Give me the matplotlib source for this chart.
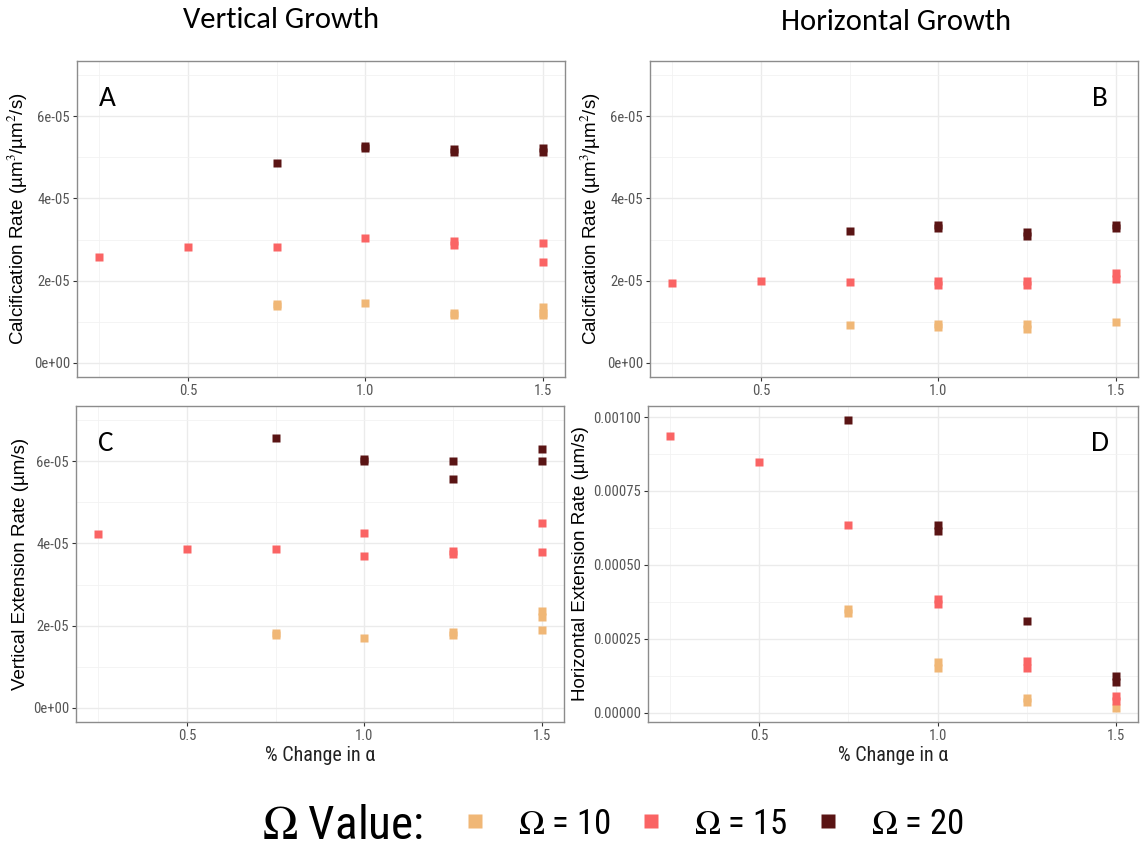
import matplotlib
matplotlib.use("Agg")
import matplotlib.pyplot as plt
from matplotlib import font_manager as fm
from matplotlib.lines import Line2D
from matplotlib.ticker import MultipleLocator, FuncFormatter

names = sorted({f.name for f in fm.fontManager.ttflist})

def pick(*cands):
    for c in cands:
        if c in names:
            return c
    return "DejaVu Sans"

NARROW = pick("Liberation Sans Narrow", "Arial Narrow", "Roboto Condensed", "Liberation Sans")
SANS = pick("Liberation Sans", "Arial", "DejaVu Sans")
CAL = pick("Carlito", "Calibri", "Lato", "Open Sans")

plt.rcParams["mathtext.fontset"] = "stix"

# ---------------- data ----------------
omega_levels = [10, 15, 20]
omega_colors = ["#F0B776", "#FA6464", "#5A1414"]

# Panel A: vertical growth, calcification rate
A_x10 = [0.75, 0.75, 1.0, 1.25, 1.25, 1.5, 1.5, 1.5]
A_y10 = [1.44e-05, 1.37e-05, 1.46e-05, 1.22e-05, 1.15e-05, 1.35e-05, 1.22e-05, 1.15e-05]
A_x15 = [0.25, 0.5, 0.75, 1.0, 1.25, 1.25, 1.5, 1.5]
A_y15 = [2.575e-05, 2.81e-05, 2.82e-05, 3.04e-05, 2.97e-05, 2.86e-05, 2.915e-05, 2.46e-05]
A_x20 = [0.75, 1.0, 1.0, 1.25, 1.25, 1.5, 1.5]
A_y20 = [4.87e-05, 5.27e-05, 5.22e-05, 5.20e-05, 5.14e-05, 5.22e-05, 5.14e-05]

# Panel B: horizontal growth, calcification rate
B_x10 = [0.75, 1.0, 1.0, 1.25, 1.25, 1.5]
B_y10 = [0.923e-05, 0.95e-05, 0.87e-05, 0.95e-05, 0.82e-05, 0.99e-05]
B_x15 = [0.25, 0.5, 0.75, 1.0, 1.0, 1.25, 1.25, 1.5, 1.5]
B_y15 = [1.94e-05, 1.98e-05, 1.97e-05, 1.99e-05, 1.88e-05, 1.99e-05, 1.89e-05, 2.19e-05, 2.05e-05]
B_x20 = [0.75, 1.0, 1.0, 1.25, 1.25, 1.5, 1.5]
B_y20 = [3.21e-05, 3.36e-05, 3.28e-05, 3.18e-05, 3.08e-05, 3.36e-05, 3.28e-05]

# Panel C: vertical extension rate
C_x10 = [0.75, 0.75, 1.0, 1.25, 1.25, 1.5, 1.5, 1.5]
C_y10 = [1.82e-05, 1.76e-05, 1.70e-05, 1.85e-05, 1.76e-05, 2.36e-05, 2.22e-05, 1.90e-05]
C_x15 = [0.25, 0.5, 0.75, 1.0, 1.0, 1.25, 1.25, 1.5, 1.5]
C_y15 = [4.24e-05, 3.86e-05, 3.87e-05, 4.25e-05, 3.69e-05, 3.82e-05, 3.74e-05, 4.50e-05, 3.80e-05]
C_x20 = [0.75, 1.0, 1.0, 1.25, 1.25, 1.5, 1.5]
C_y20 = [6.58e-05, 6.07e-05, 6.02e-05, 6.01e-05, 5.58e-05, 6.31e-05, 6.02e-05]

# Panel D: horizontal extension rate
D_x10 = [0.75, 0.75, 1.0, 1.0, 1.25, 1.25, 1.5]
D_y10 = [0.000352, 0.000336, 0.000172, 0.000152, 0.000050, 0.000036, 0.000017]
D_x15 = [0.25, 0.5, 0.75, 1.0, 1.0, 1.25, 1.25, 1.5, 1.5]
D_y15 = [0.000935, 0.000848, 0.000636, 0.000385, 0.000368, 0.000174, 0.000151, 0.000055, 0.000040]
D_x20 = [0.75, 1.0, 1.0, 1.25, 1.5, 1.5]
D_y20 = [0.000989, 0.000636, 0.000616, 0.000310, 0.000125, 0.000105]

x_ticks = [0.5, 1.0, 1.5]
x_label = "% Change in α"
col_titles = ["Vertical Growth", "Horizontal Growth"]
calc_label = "Calcification Rate (µm$^3$/µm$^2$/s)"
vext_label = "Vertical Extension Rate (µm/s)"
hext_label = "Horizontal Extension Rate (µm/s)"
panel_letters = ["A", "B", "C", "D"]

# ---------------- figure ----------------
W, H = 1143, 850
fig = plt.figure(figsize=(W / 100, H / 100), dpi=100)

def rect(l, t, r, b):
    return [l / W, 1 - b / H, (r - l) / W, (b - t) / H]

axA = fig.add_axes(rect(77, 61, 565, 377))
axB = fig.add_axes(rect(650, 61, 1138, 377))
axC = fig.add_axes(rect(76, 406, 564, 722))
axD = fig.add_axes(rect(648, 406, 1138, 722))

panels = [
    (axA, [(A_x10, A_y10), (A_x15, A_y15), (A_x20, A_y20)], calc_label, "sci", (0.045, 0.88)),
    (axB, [(B_x10, B_y10), (B_x15, B_y15), (B_x20, B_y20)], calc_label, "sci", (0.905, 0.88)),
    (axC, [(C_x10, C_y10), (C_x15, C_y15), (C_x20, C_y20)], vext_label, "sci", (0.045, 0.88)),
    (axD, [(D_x10, D_y10), (D_x15, D_y15), (D_x20, D_y20)], hext_label, "fix", (0.905, 0.88)),
]

def sci_fmt(v, pos):
    if abs(v) < 1e-12:
        return "0e+00"
    return "%.0e" % v

for i, (ax, series, ylab, fmt, lpos) in enumerate(panels):
    for (xs, ys), col in zip(series, omega_colors):
        ax.plot(xs, ys, linestyle="none", marker="s", markersize=5.8,
                markerfacecolor=col, markeredgecolor="none", zorder=3)
    ax.set_xlim(0.1875, 1.5625)
    ax.xaxis.set_minor_locator(MultipleLocator(0.25))
    ax.set_xticks(x_ticks)
    ax.xaxis.set_major_formatter(FuncFormatter(lambda v, p: "%.1f" % v))
    if fmt == "sci":
        ax.set_ylim(-3.5e-06, 7.35e-05)
        ax.yaxis.set_major_locator(MultipleLocator(2e-05))
        ax.yaxis.set_minor_locator(MultipleLocator(1e-05))
        ax.yaxis.set_major_formatter(FuncFormatter(sci_fmt))
    else:
        ax.margins(y=0.05)
        ax.yaxis.set_major_locator(MultipleLocator(0.00025))
        ax.yaxis.set_minor_locator(MultipleLocator(0.000125))
        ax.yaxis.set_major_formatter(FuncFormatter(lambda v, p: "%.5f" % v))
    ax.grid(which="major", color="#EBEBEB", linewidth=1.0, zorder=0)
    ax.grid(which="minor", color="#F2F2F2", linewidth=0.6, zorder=0)
    ax.set_axisbelow(True)
    for sp in ax.spines.values():
        sp.set_color("#8C8C8C")
        sp.set_linewidth(1.0)
    ax.tick_params(which="major", length=3, width=0.8, color="#333333",
                   labelcolor="#555555", labelsize=10.5, pad=2)
    ax.tick_params(which="minor", length=0)
    for lab in ax.get_xticklabels() + ax.get_yticklabels():
        lab.set_fontfamily(NARROW)
    ax.set_ylabel(ylab, fontsize=13.5, family=SANS, labelpad=3)
    if i >= 2:
        ax.set_xlabel(x_label, fontsize=14.5, family=NARROW, labelpad=2, color="#222222")
    ax.text(lpos[0], lpos[1], panel_letters[i], transform=ax.transAxes,
            fontsize=21, family=CAL, ha="left", va="center")

fig.text(281 / W, 1 - 20 / H, col_titles[0], fontsize=22, family=CAL, ha="center", va="center")
fig.text(896 / W, 1 - 22 / H, col_titles[1], fontsize=22, family=CAL, ha="center", va="center")

# legend
fig.text(262 / W, 1 - 826 / H, r"$\Omega$ Value:", fontsize=34, family=NARROW,
         ha="left", va="center")
handles = [Line2D([], [], linestyle="none", marker="s", markersize=10,
                  markerfacecolor=c, markeredgecolor="none") for c in omega_colors]
labels = [r"$\Omega$ = %d" % o for o in omega_levels]
leg = fig.legend(handles, labels, loc="center", bbox_to_anchor=(714 / W, 1 - 824 / H),
                 ncol=3, frameon=False, handlelength=0.6, handletextpad=0.95,
                 columnspacing=0.85, prop={"family": NARROW, "size": 25})

fig.savefig("out.png", dpi=100)
